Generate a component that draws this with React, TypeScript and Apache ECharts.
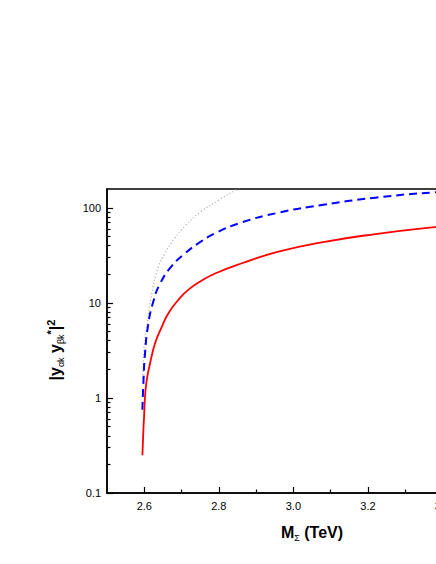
import React, { useEffect, useRef } from "react";
import * as echarts from "echarts";

// M_Sigma (TeV) and |y y*|^2 values
const redX = [2.595, 2.5976, 2.5995, 2.602, 2.6067, 2.6156, 2.629, 2.647, 2.6648, 2.6917, 2.7186, 2.7545, 2.79, 2.86, 2.96, 3.08, 3.22, 3.38, 3.6];
const redY = [0.25, 0.46, 0.64, 1.03, 1.55, 2.32, 3.77, 5.6, 7.8, 10.8, 13.8, 17.2, 20.4, 26.0, 34.6, 43.7, 53, 62.7, 76];

const blueX = [2.5949, 2.5976, 2.602, 2.611, 2.6245, 2.6425, 2.674, 2.7097, 2.7455, 2.79, 2.86, 2.96, 3.08, 3.22, 3.38, 3.6];
const blueY = [0.75, 1.43, 2.95, 6.1, 10.4, 16, 24.5, 33.3, 42.5, 54, 70, 89, 107.7, 128, 146, 163];

const grayX = [2.5955, 2.5976, 2.6, 2.6067, 2.62, 2.638, 2.655, 2.68, 2.71, 2.75, 2.8, 2.85, 2.88];
const grayY = [1.6, 2.2, 3.6, 5.6, 12.5, 24, 33, 47, 65, 90, 121, 158, 185];

const xLabelValues = [2.6, 2.8, 3.0, 3.2, 3.4];
const xMinorValues = [2.7, 2.9, 3.1, 3.3, 3.5];
const yLabelValues = [0.1, 1, 10, 100];
const yMinorValues = [0.2, 0.3, 0.4, 0.5, 0.6, 0.7, 0.8, 0.9, 2, 3, 4, 5, 6, 7, 8, 9, 20, 30, 40, 50, 60, 70, 80, 90];

const zip = (xs: number[], ys: number[]) => xs.map((x, i) => [x, ys[i]]);

const FONT = "'Liberation Sans', Arial, sans-serif";

export default function App() {
  const ref = useRef<HTMLDivElement>(null);
  useEffect(() => {
    if (!ref.current) return;
    const chart = echarts.init(ref.current, undefined, { renderer: "svg" });
    const axisCommon = {
      axisLine: { show: true, lineStyle: { color: "#000", width: 1.5 } },
      splitLine: { show: false },
    };
    chart.setOption({
      animation: false,
      backgroundColor: "#fff",
      textStyle: { color: "#000", fontFamily: FONT },
      grid: { left: 107, top: 189, width: 410, height: 304, show: true, borderColor: "#000", borderWidth: 1.5, containLabel: false },
      xAxis: [
        {
          type: "value", min: 2.5, max: 3.6, ...axisCommon,
          axisTick: { show: true, inside: true, length: 6, customValues: xLabelValues, lineStyle: { color: "#000", width: 1.2 } },
          axisLabel: { customValues: xLabelValues, margin: 7, fontSize: 11, color: "#000", fontFamily: FONT, formatter: (v: number) => v.toFixed(1) },
        },
        {
          type: "value", min: 2.5, max: 3.6, position: "bottom", ...axisCommon,
          axisLine: { show: false },
          axisTick: { show: true, inside: true, length: 3.5, customValues: xMinorValues, lineStyle: { color: "#000", width: 1.2 } },
          axisLabel: { show: false },
        },
      ],
      yAxis: [
        {
          type: "log", logBase: 10, min: 0.1, max: 158, ...axisCommon,
          axisTick: { show: true, inside: true, length: 6, customValues: yLabelValues, lineStyle: { color: "#000", width: 1.2 } },
          axisLabel: { customValues: yLabelValues, margin: 6, fontSize: 11, color: "#000", fontFamily: FONT, formatter: (v: number) => String(parseFloat(Number(v).toPrecision(6))) },
        },
        {
          type: "log", logBase: 10, min: 0.1, max: 158, position: "left", ...axisCommon,
          axisLine: { show: false },
          axisTick: { show: true, inside: true, length: 3.5, customValues: yMinorValues, lineStyle: { color: "#000", width: 1.2 } },
          axisLabel: { show: false },
        },
      ],
      series: [
        {
          type: "line", data: zip(grayX, grayY), showSymbol: false, symbol: "none", smooth: 0.5, clip: true,
          lineStyle: { color: "#b0b0b0", width: 1.2, type: [1.2, 2.2] },
        },
        {
          type: "line", data: zip(blueX, blueY), showSymbol: false, symbol: "none", smooth: 0.5, clip: true,
          lineStyle: { color: "#0000ff", width: 2, type: [8, 5] },
        },
        {
          type: "line", data: zip(redX, redY), showSymbol: false, symbol: "none", smooth: 0.5, clip: true,
          lineStyle: { color: "#ff0000", width: 1.8 },
        },
      ],
      graphic: [
        {
          type: "text", x: 312, y: 532,
          style: {
            text: "{m|M}{s|Σ}{m| (TeV)}",
            align: "center", verticalAlign: "middle",
            rich: {
              m: { fontSize: 16, fontWeight: "bold", fontFamily: FONT, lineHeight: 20, fill: "#000", verticalAlign: "middle" },
              s: { fontSize: 9, fontFamily: FONT, lineHeight: 9, fill: "#000", verticalAlign: "bottom" },
            },
          },
        },
        {
          type: "text", x: 55, y: 350, rotation: Math.PI / 2,
          style: {
            text: "{m||y}{s|αk}{m| y}{s|βk}{p|*}{m||}{p|2}",
            align: "center", verticalAlign: "middle",
            rich: {
              m: { fontSize: 16, fontWeight: "bold", fontFamily: FONT, lineHeight: 20, fill: "#000", verticalAlign: "middle" },
              s: { fontSize: 9, fontFamily: FONT, lineHeight: 9, fill: "#000", verticalAlign: "bottom" },
              p: { fontSize: 11, fontWeight: "bold", fontFamily: FONT, lineHeight: 11, fill: "#000", verticalAlign: "top" },
            },
          },
        },
      ],
    });
    return () => chart.dispose();
  }, []);
  return (
    <div style={{ position: "fixed", left: 0, top: 0, width: 436, height: 564, overflow: "hidden", background: "#fff" }}>
      <div ref={ref} style={{ width: 560, height: 564 }} />
    </div>
  );
}
